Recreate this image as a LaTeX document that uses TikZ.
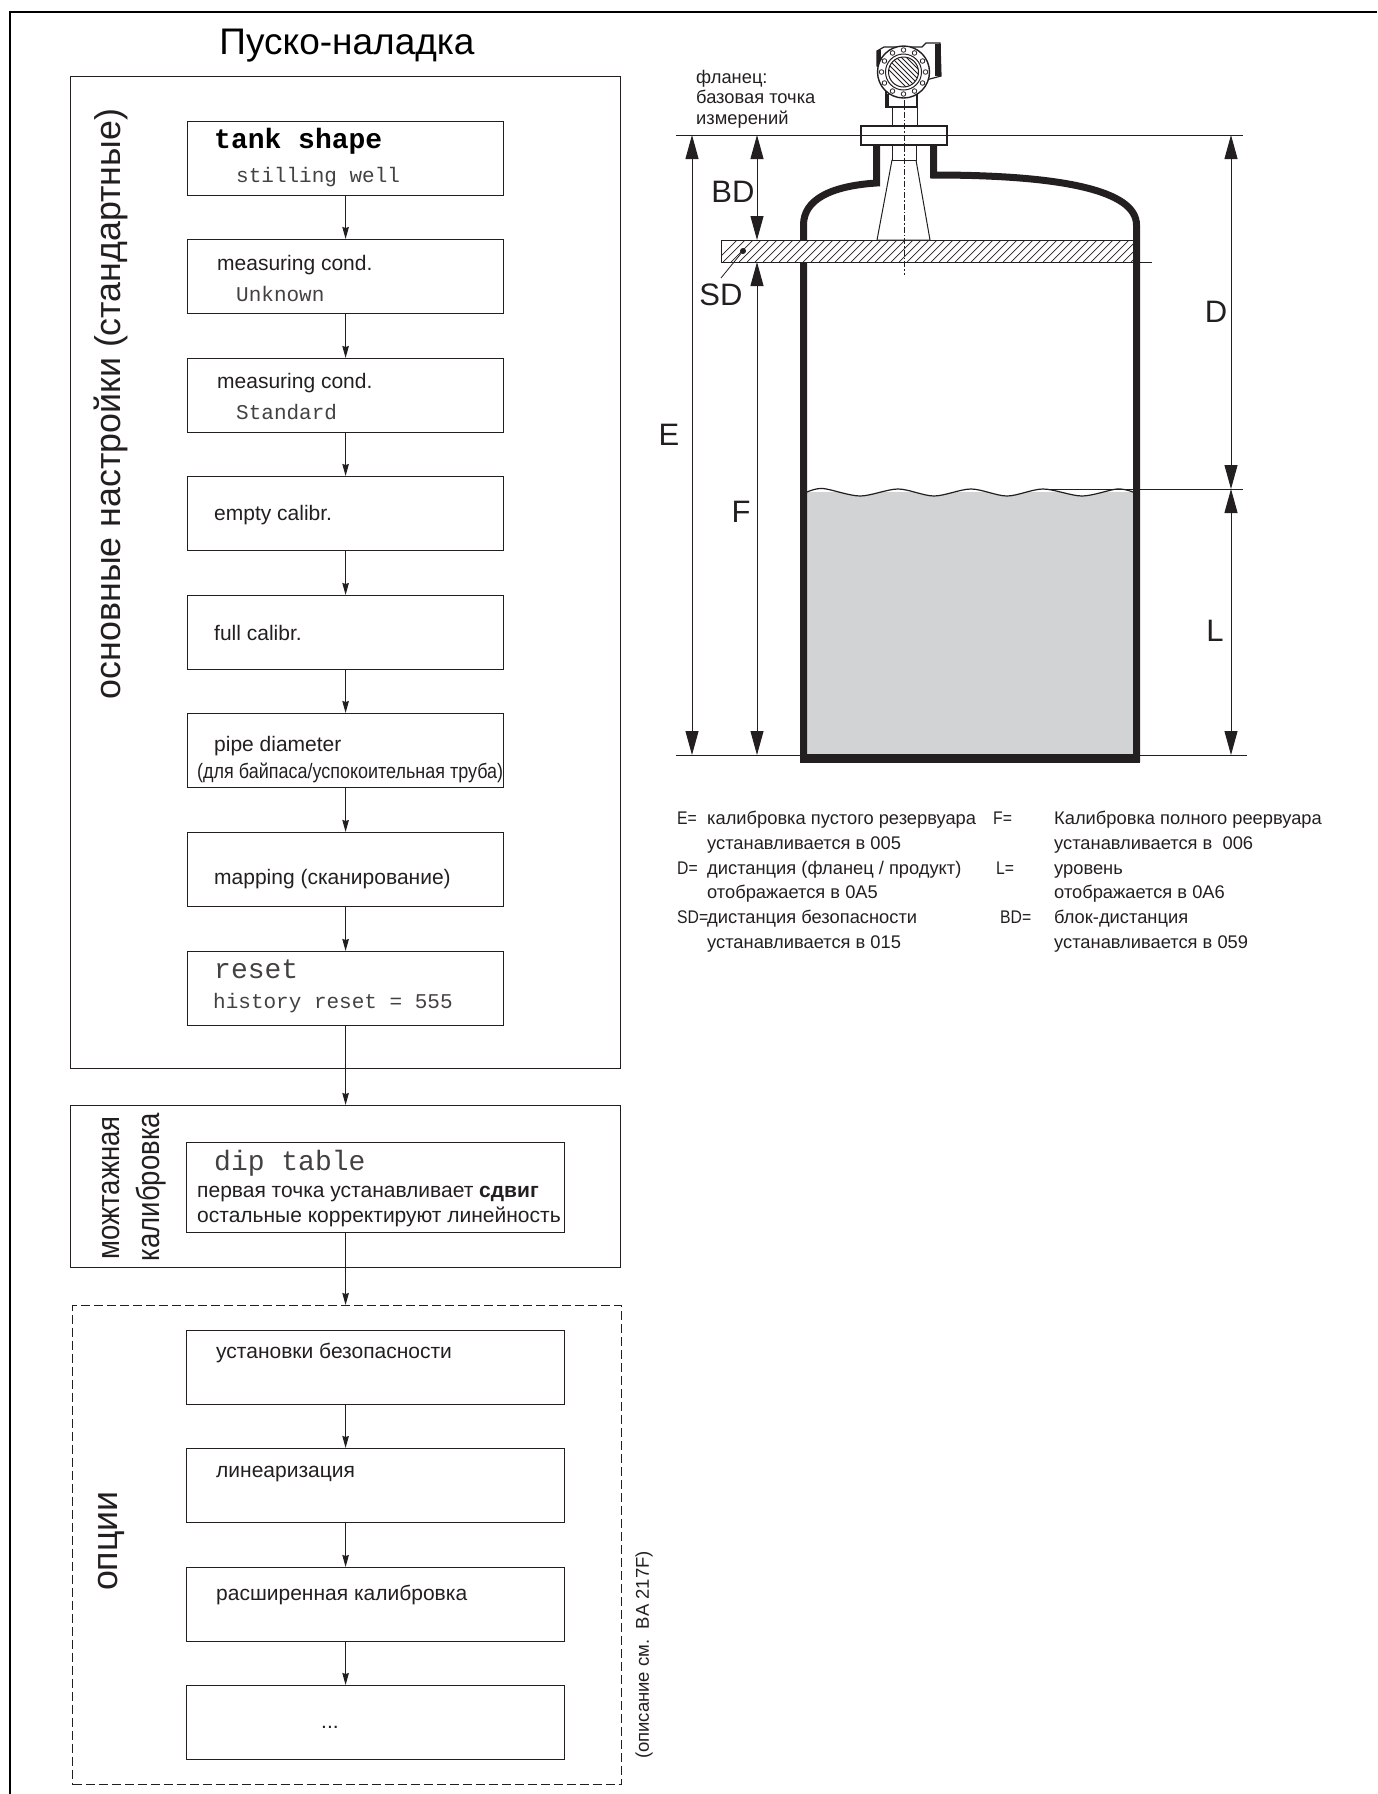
\documentclass[tikz,border=0pt]{standalone}
\usepackage{fontspec}
\setmainfont{Liberation Sans}
\newfontfamily\lcdfont{Liberation Mono}
\newfontfamily\narrowfont[FakeStretch=0.86]{Liberation Sans}
\usetikzlibrary{arrows.meta}
\definecolor{inkdark}{HTML}{231F20}
\definecolor{productgrey}{HTML}{D1D3D4}
\tikzset{
  flowbox/.style={draw=inkdark, line width=1.2pt, anchor=north west, inner sep=0pt,
    minimum width=316pt, minimum height=74pt},
  widebox/.style={flowbox, minimum width=378pt},
  groupbox/.style={draw=inkdark, line width=1.4pt, anchor=north west, inner sep=0pt},
  flowarrow/.style={draw=inkdark, line width=1.2pt, -{Stealth[length=12pt,width=6.5pt,inset=1pt]}},
  dimline/.style={draw=inkdark, line width=1pt, {Triangle[length=24pt,width=13pt]}-{Triangle[length=24pt,width=13pt]}},
  reflline/.style={draw=inkdark, line width=1pt},
  boxlabel/.style={anchor=west, inner sep=0pt, text=inkdark, font=\fontsize{21}{24}\selectfont},
  lcdbig/.style={anchor=west, inner sep=0pt, text=black, font=\lcdfont\fontsize{28}{30}\selectfont},
  lcdsmall/.style={anchor=west, inner sep=0pt, text=inkdark!85, font=\lcdfont\fontsize{21}{24}\selectfont},
  dimlabel/.style={inner sep=0pt, text=inkdark, font=\fontsize{31}{34}\selectfont},
  sidelabel/.style={rotate=90, inner sep=0pt, text=inkdark, font=\fontsize{35.8}{38}\selectfont},
  legendtext/.style={anchor=base west, inner sep=0pt, text=inkdark, font=\fontsize{18.3}{22}\selectfont},
  legendterm/.style={legendtext, font=\narrowfont\fontsize{18.3}{22}\selectfont},
}
\begin{document}
\begin{tikzpicture}[>=stealth, x=1pt, y=-1pt]
  \useasboundingbox (0,0) rectangle (1377,1794);
  % Page frame
  \draw[line width=2.6pt, black] (10,1794) -- (10,12) -- (1377,12);
  \node[inner sep=0pt, text=black, font=\fontsize{37}{40}\selectfont] (title) at (347,46) {Пуско-наладка};
  % Group boxes
  \node[groupbox, minimum width=550pt, minimum height=992pt] (basic) at (70,76) {};
  \node[groupbox, minimum width=550pt, minimum height=162pt] (mounting) at (70,1105) {};
  \node[groupbox, dash pattern=on 9pt off 4pt, minimum width=549pt, minimum height=479pt] (options) at (72,1305) {};
  \node[sidelabel] (basiclabel) at (111,404) {основные настройки (стандартные)};
  \node[sidelabel, font=\narrowfont\fontsize{32}{34}\selectfont] (mountlabela) at (111,1188) {можтажная};
  \node[sidelabel, font=\narrowfont\fontsize{32}{34}\selectfont] (mountlabelb) at (151,1187) {калибровка};
  \node[sidelabel] (optlabel) at (111,1541) {опции};
  \node[rotate=90, inner sep=0pt, text=inkdark, font=\fontsize{18.5}{22}\selectfont] (optnote) at (644,1655) {(описание см.~~BA 217F)};
  % Flow boxes
  \foreach \name/\ypos in {tank/121, unknown/239, standard/358, empty/476, full/595, pipe/713, mapping/832, reset/951} {
    \node[flowbox] (\name) at (187,\ypos) {};
  }
  \node[widebox, minimum height=90pt] (dip) at (186,1142) {};
  \foreach \name/\ypos in {safety/1330, linear/1448, extended/1567, more/1685} {
    \node[widebox] (\name) at (186,\ypos) {};
  }
  % Box texts
  \node[lcdbig, font=\lcdfont\bfseries\fontsize{28}{30}\selectfont] (tanka) at (214,141) {tank shape};
  \node[lcdsmall] (tankb) at (236,177) {stilling well};
  \node[boxlabel] (unknowna) at (217,265) {measuring cond.};
  \node[lcdsmall] (unknownb) at (236,294) {Unknown};
  \node[boxlabel] (standarda) at (217,383) {measuring cond.};
  \node[lcdsmall] (standardb) at (236,412) {Standard};
  \node[boxlabel] (emptya) at (214,515) {empty calibr.};
  \node[boxlabel] (fulla) at (214,633) {full calibr.};
  \node[boxlabel] (pipea) at (214,746) {pipe diameter};
  \node[boxlabel, font=\narrowfont\fontsize{20.9}{24}\selectfont] (pipeb) at (197,773) {(для байпаса/успокоительная труба)};
  \node[boxlabel] (mappinga) at (214,879) {mapping (сканирование)};
  \node[lcdbig, text=inkdark!85] (reseta) at (214,969) {reset};
  \node[lcdsmall] (resetb) at (213,1003) {history reset = 555};
  \node[lcdbig, text=inkdark!85] (dipa) at (214,1163) {dip table};
  \node[boxlabel] (dipb) at (197,1194) {первая точка устанавливает \textbf{сдвиг}};
  \node[boxlabel] (dipc) at (197,1217) {остальные корректируют линейность};
  \node[boxlabel] (safetya) at (216,1353) {установки безопасности};
  \node[boxlabel] (lineara) at (216,1474) {линеаризация};
  \node[boxlabel] (extendeda) at (216,1595) {расширенная калибровка};
  \node[boxlabel] (morea) at (321,1727) {...};
  % Connectors
  \foreach \from/\to in {tank/unknown, unknown/standard, standard/empty, empty/full, full/pipe, pipe/mapping, mapping/reset} {
    \draw[flowarrow] (\from) -- (\to);
  }
  \draw[flowarrow] (reset.south) -- (reset.south |- mounting.north);
  \draw[flowarrow] (reset.south |- dip.south) -- (reset.south |- options.north);
  \foreach \from/\to in {safety/linear, linear/extended, extended/more} {
    \draw[flowarrow] (reset.south |- \from.south) -- (reset.south |- \to.north);
  }
  % Product in the tank
  \fill[productgrey] (807,754) -- (807,492) -- (1133,492) -- (1133,754) -- cycle;
  \fill[white] plot[smooth] coordinates {(807,492) (823,488.5) (860,496) (898,489) (934,496) (971,489) (1007,496) (1043,489) (1082,496) (1117,489) (1133,492)} -- (1133,480) -- (807,480) -- cycle;
  \draw[line width=1.2pt, inkdark] plot[smooth] coordinates {(807,492) (823,488.5) (860,496) (898,489) (934,496) (971,489) (1007,496) (1043,489) (1082,496) (1117,489) (1133,492)};
  % Reference lines
  \draw[reflline] (676,135) -- (1243,135);
  \draw[reflline] (676,755) -- (1247,755);
  \draw[reflline] (1050,489) -- (1243,489);
  \draw[reflline] (1133,262) -- (1152,262);
  % Tank wall
  \draw[line width=7pt, inkdark, miter limit=10] (876.5,145) -- (876.5,183)
    .. controls (830,186) and (803.5,200) .. (803.5,225) -- (803.5,758.5) -- (1136.5,758.5)
    -- (1136.5,225) .. controls (1136.5,190) and (1060,175) .. (933.5,175) -- (933.5,143);
  \draw[line width=9pt, inkdark] (800,758.5) -- (1140,758.5);
  % Safety distance band
  \fill[white] (721,240) rectangle (1133,262);
  \begin{scope}
    \clip (721,240) rectangle (1133,262);
    \foreach \x in {715,723,...,1135} {
      \draw[line width=0.7pt, inkdark] (\x,262) -- ++(22,-22);
    }
  \end{scope}
  \draw[line width=1pt, inkdark] (721,240) rectangle (1133,262);
  \fill[inkdark] (743,251) circle (3);
  \draw[line width=0.8pt, inkdark] (743,251) -- (721,278);
  % Horn antenna and flange
  \draw[line width=1pt, inkdark, fill=white] (892,160) -- (877,240) -- (930,240) -- (916,160) -- cycle;
  \draw[line width=1pt, inkdark, fill=white] (892,145) rectangle (916,160);
  \draw[line width=1pt, inkdark, fill=white] (892,107) rectangle (917,126);
  \draw[line width=1.2pt, inkdark, fill=white] (861,126) rectangle (947,145);
  \draw[line width=1pt, inkdark] (861,135) -- (947,135);
  % Transmitter head
  \draw[line width=1.2pt, inkdark, fill=white] (886,92) -- (886,107) -- (917,107) -- (917,92) -- cycle;
  \draw[line width=1.2pt, inkdark, fill=white] (877,66) -- (877,51) -- (884,47) -- (922,47)
    -- (926,43) -- (940,43) -- (941,76) -- (926,80) -- cycle;
  \fill[inkdark] (935,44) rectangle (941,76);
  \fill[inkdark] (877,50) rectangle (881,66);
  \draw[line width=1.4pt, inkdark, fill=white] (903.5,72) circle (26);
  \draw[line width=1pt, inkdark] (903.5,72) circle (18);
  \foreach \ang in {0,30,...,330} {
    \draw[line width=0.8pt, inkdark] (903.5,72) ++(\ang:22) circle (2.3);
  }
  \begin{scope}
    \clip (903.5,72) circle (15);
    \foreach \x in {870,875,...,940} {
      \draw[line width=0.8pt, inkdark] (\x,51) -- ++(42,42);
    }
  \end{scope}
  \draw[line width=1pt, inkdark] (903.5,72) circle (15);
  \fill[inkdark] (885,94) rectangle (889,107);
  % Centre line
  \draw[line width=0.8pt, inkdark, dash pattern=on 6pt off 2pt on 1.5pt off 2pt] (904,100) -- (904,275);
  % Dimension arrows
  \draw[dimline] (692,135) -- (692,755);
  \draw[dimline] (757,135) -- (757,240);
  \draw[dimline] (757,262) -- (757,755);
  \draw[dimline] (1231,135) -- (1231,489);
  \draw[dimline] (1231,489) -- (1231,755);
  % Dimension labels
  \node[dimlabel] (labelBD) at (733,192) {BD};
  \node[dimlabel] (labelSD) at (721,295) {SD};
  \node[dimlabel] (labelE) at (669,435) {E};
  \node[dimlabel] (labelF) at (741,512) {F};
  \node[dimlabel] (labelD) at (1216,312) {D};
  \node[dimlabel] (labelL) at (1215,631) {L};
  \foreach \name/\ypos/\txt in {flangea/83/{фланец:}, flangeb/103/{базовая точка}, flangec/124/{измерений}} {
    \node[legendtext] (\name) at (696,\ypos) {\txt};
  }
  % Legend
  \foreach \name/\xpos/\ypos/\txt in {
    termE/677/824/{E=}, termD/677/874/{D=}, termSD/677/923/{SD=},
    termF/993/824/{F=}, termL/996/874/{L=}, termBD/1000/923/{BD=}} {
    \node[legendterm] (\name) at (\xpos,\ypos) {\txt};
  }
  \foreach \name/\xpos/\ypos/\txt in {
    textE/707/824/{калибровка пустого резервуара}, textEb/707/849/{устанавливается в 005},
    textD/707/874/{дистанция (фланец / продукт)}, textDb/707/898/{отображается в 0A5},
    textSD/707/923/{дистанция безопасности}, textSDb/707/948/{устанавливается в 015},
    textF/1054/824/{Калибровка полного реервуара}, textFb/1054/849/{устанавливается в~~006},
    textL/1054/874/{уровень}, textLb/1054/898/{отображается в 0A6},
    textBD/1054/923/{блок-дистанция}, textBDb/1054/948/{устанавливается в 059}} {
    \node[legendtext] (\name) at (\xpos,\ypos) {\txt};
  }
\end{tikzpicture}
\end{document}
